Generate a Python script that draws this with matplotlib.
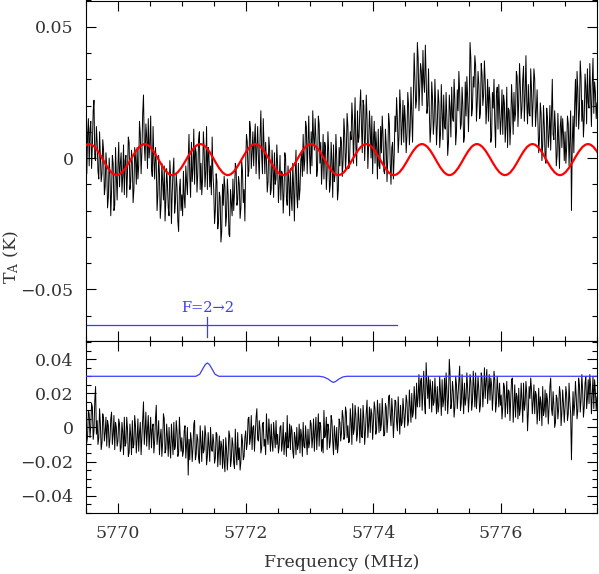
import matplotlib.pyplot as plt
import numpy as np
from matplotlib.path import Path
from matplotlib.patches import PathPatch
from matplotlib.ticker import MultipleLocator, FuncFormatter

plt.rcParams['font.family'] = ['DejaVu Serif']
plt.rcParams['mathtext.fontset'] = 'dejavuserif'

# spectrum channels: start frequency and channel width (MHz)
f_start = 5769.5
f_step = 0.0125

# raw spectrum, top panel (mK), one row per 0.5 MHz
spec_top = [
    2, -6, 9, 15, -3, 11, 14, -4, 5, 18, 22, 0, -1, 12, 6, -5, -8, 10, 1, -9, -6, 7, 3, -14, -11, 2, -4, -19, -15, 0, -6, -22, -13, 1, -2, -20, -18, 4, -7, -16,
    -3, 6, -11, -2, 2, -13, -7, 5, -14, -1, 1, -15, -5, 8, 6, -12, -9, 3, -2, -17, -12, 4, 0, -10, 4, -8, -3, 14, 9, -6, 2, 17, 24, 5, -1, 13, 8, -4, 15, 0,
    5, 16, -4, -7, 12, -1, -8, 4, -2, -20, -14, 1, -6, -23, -18, -2, -9, -16, -3, -24, -16, -4, -10, -19, -22, -1, -7, -25, -13, -5, 0, -21, -17, -6, -11, -24, -28, -12, -8, -20,
    -14, -22, -5, -15, -19, -3, -9, -14, -1, 9, -7, -15, 6, -9, -4, 11, -10, 4, 2, -13, -6, 7, 10, -12, -2, -14, -8, 10, 3, -11, -5, 12, -12, 4, 1, -11, -3, -14, 8, -6,
    -12, -25, -20, -6, -9, -27, -24, -13, -15, -32, -28, -10, -18, -7, -11, -26, -22, -8, -14, -29, -30, -12, -17, -22, -8, -20, -13, -2, -4, -18, -16, -7, -10, -23, -19, -1, -5, -17, -12, -24,
    -2, 9, 6, -7, -5, 14, 11, -4, 2, 10, -3, 7, 13, -6, 4, 12, -1, -8, 8, 18, 1, -6, 15, 5, -6, 6, -1, -13, -9, 8, 3, -14, -12, 3, -4, -15, 2, -10, -8, 5,
    -3, -17, -10, 1, -16, -5, -6, -21, -13, 2, 0, -15, -18, -3, -9, -22, -4, -15, -20, -2, -11, -24, -7, 3, -14, -19, -2, -16, -12, -1, 2, -7, 9, -5, -1, 14, 12, -6, 5, 16,
    1, -6, 10, -3, 18, 8, 3, 15, 7, -7, -4, 16, 13, -2, 6, -10, -2, 9, -8, 6, 4, -12, -5, 10, 2, -13, -10, 6, -1, -15, 5, -9, -6, 9, 0, -16, -12, 4, -3, 8,
    6, -7, -1, 15, 9, -5, 2, 17, 12, -4, -3, 10, 7, 21, 14, -2, 10, 23, 4, -3, 18, 6, 8, 19, 26, 12, 2, 22, 20, -1, 9, 24, 15, -4, 5, 18, 11, 0, 16, -6,
    7, 14, -2, 10, 4, -8, 11, -3, -4, 12, 2, 16, 9, -5, -6, 11, 5, -9, 0, 17, 13, -2, -10, 4, 6, -8, 1, 16, 10, 23, 15, 2, 8, 26, 19, 5, 12, 22, 6, 20,
    14, 2, 9, 25, 20, 5, 11, 27, 16, 6, 24, 40, 30, 19, 22, 44, 38, 18, 27, 36, 33, 20, 41, 29, 25, 43, 31, 17, 20, 34, 18, 6, 12, 29, 23, 9, 14, 30, 19, 5,
    13, 26, 21, 4, 9, 28, 17, 7, 24, 12, 11, 25, 15, 1, 6, 24, 19, 8, 27, 16, 14, 30, 22, 5, 10, 26, 18, 33, 25, 11, 13, 27, 20, 6, 8, 29, 16, 31, 23, 10,
    22, 44, 38, 16, 19, 31, 27, 39, 35, 14, 21, 33, 28, 15, 17, 36, 32, 20, 24, 37, 29, 13, 20, 30, 14, 27, 22, 6, 8, 25, 19, 30, 13, 4, 24, 27, 11, 28, 18, 9,
    15, 26, 9, 24, 21, 6, 12, 27, 4, 19, 18, 5, 13, 28, 20, 9, 25, 14, 17, 33, 31, 12, 22, 36, 27, 15, 19, 30, 35, 14, 24, 39, 21, 13, 28, 17, 16, 34, 26, 12,
    22, 34, 30, 12, 18, 26, 14, 2, 8, 21, 17, -1, 5, 20, 12, 0, -2, 19, 15, 4, 9, 20, 3, 16, 30, 9, 7, 18, 11, -3, 1, 17, 6, -4, 12, 16, 4, 15, 9, -1,
    10, -2, 4, 16, 13, -3, 7, 18, -20, 5, 16, 2, 20, 30, 12, 33, 26, 11, 18, 37, 31, 14, 22, 8, 15, 32, 27, 13, 34, 21, 19, 36, 24, 12, 28, 38, 17, 29, 25, 15,
    21,
]

# residual spectrum after ripple removal, bottom panel (mK)
spec_bot = [
    3, -9, -5, 10, 8, -6, 1, 14, 12, -7, -2, 16, 24, -4, 4, -10, -6, 11, 2, -13, -9, 8, 5, -8, -3, 6, -11, 4, 1, -12, -7, 5, 9, -10, -4, 7, -13, 3, 0, -11,
    -8, 5, 2, -14, -12, 3, -3, -16, 6, -11, -9, 6, -1, -17, -15, 2, -5, -16, 4, -12, -10, 7, 1, -15, -7, 5, -14, -3, 3, -16, -6, 4, 15, -10, -2, 9, -11, -1, 7, -13,
    -3, 6, -12, -1, 2, -15, -8, 5, 13, -10, -4, 4, -16, -6, -1, -17, -9, 8, 5, -15, -13, 2, -6, -17, 0, -11, -18, 2, -7, -16, 3, -13, -11, 4, -2, -17, -15, 6, -5, -14,
    -6, -17, -14, -2, 1, -18, -10, 0, -28, -7, -19, -3, -8, -20, -12, 2, 4, -19, -16, -4, -7, -18, -21, 1, -9, -20, -2, -15, -13, 1, -5, -22, -17, -3, -11, -20, 0, -12, -14, -4,
    -9, -21, -18, -3, -4, -23, -14, -5, -22, -8, -11, -24, -7, -20, -26, -6, -13, -25, -16, -2, -5, -23, -19, -6, -10, -21, -24, -1, -15, -22, -3, -19, -12, -25, -20, -4, -8, -19, -17, -6,
    -2, -13, -9, 5, 6, -10, -6, 7, -13, 0, 1, -14, -4, 6, 11, -7, -8, 4, -1, -15, -12, 2, 3, -11, -7, -16, 8, -5, -10, 5, -3, -14, 2, -9, -14, 3, -5, -12, 4, -10,
    -4, -15, -11, 0, 1, -14, -9, 3, -16, -8, -3, -17, 7, -12, -8, 2, -13, 1, -2, -14, -18, -3, -6, -16, 0, -13, -10, 2, -15, -1, -5, -17, 3, -11, -12, 1, -7, -16, -1, -12,
    -9, 4, 2, -12, -6, 5, -14, -2, 6, -13, -3, 8, -11, 3, 1, -14, -7, -15, 10, -6, -4, 6, -13, 2, -1, -12, -8, 7, 4, -8, -16, 1, -5, -13, 0, -15, -10, 5, 3, -8,
    -3, 10, 6, -7, -5, 12, 9, -6, 1, -9, -8, 11, 4, -10, 14, -4, -1, 13, 7, -8, -4, 12, 3, -9, 11, -5, -6, 13, 5, -10, -2, 9, 16, -6, 2, 12, -3, 11, 8, -7,
    3, 15, 11, -4, -1, 16, 8, -3, 14, -2, 2, 17, 6, -5, -4, 14, 12, -3, 5, 18, 19, 7, 1, 17, 9, -6, 4, 16, 15, 3, -2, 18, 7, -4, 13, 1, 3, 17, 10, 0,
    8, 19, 15, 1, 4, 22, 13, 3, 20, 6, 9, 24, 16, 5, 26, 12, 18, 31, 12, 27, 29, 10, 21, 33, 14, 8, 38, 26, 17, 30, 11, 28, 22, 9, 27, 13, 15, 29, 19, 8,
    24, 9, 13, 30, 20, 7, 28, 12, 16, 29, 10, 32, 22, 8, 18, 40, 31, 11, 15, 27, 21, 6, 12, 30, 25, 11, 19, 28, 36, 10, 14, 31, 20, 8, 26, 13, 17, 32, 23, 9,
    18, 31, 27, 10, 15, 33, 24, 12, 32, 11, 19, 30, 22, 9, 13, 32, 29, 12, 21, 35, 17, 27, 34, 14, 23, 31, 16, 29, 25, 10, 20, 33, 28, 9, 14, 30, 22, 12, 26, 13,
    19, 5, 12, 26, 24, 6, 15, 27, 8, 22, 21, 4, 17, 28, 29, 3, 13, 25, 6, 20, 18, 5, 23, 7, 11, 26, 16, 3, 26, 10, 14, 27, 20, -2, 9, 24, 17, 29, 22, 8,
    15, 25, 8, 21, 19, 2, 11, 23, 4, 18, 14, 1, 24, 7, 10, 22, 6, 20, 16, 2, 12, 24, 29, 11, 7, 21, 13, 0, 3, 19, 17, 5, 11, 24, 20, 1, 9, 22, 14, 3,
    12, 24, 19, 4, 8, 26, 15, 8, -19, 6, 21, 7, 13, 27, 18, 5, 10, 29, 25, 9, 16, 31, 22, 6, 12, 26, 30, 11, 17, 28, 14, 31, 24, 8, 19, 30, 11, 28, 21, 10,
    18,
]

# fitted baseline ripple: extrema (MHz, K)
ripple_freq = [5769.12, 5769.55, 5769.98, 5770.42, 5770.85, 5771.29, 5771.72,
               5772.15, 5772.59, 5773.02, 5773.45, 5773.89, 5774.32, 5774.76,
               5775.19, 5775.62, 5776.06, 5776.49, 5776.92, 5777.36, 5777.79]
ripple_vals = [-0.0065, 0.0053] * 10 + [-0.0065]

# hyperfine line model in the residual panel
model_freq = [5769.5, 5771.22, 5771.28, 5771.33, 5771.37, 5771.40, 5771.43, 5771.47,
              5771.52, 5771.58, 5773.15, 5773.22, 5773.29, 5773.34, 5773.375, 5773.41,
              5773.46, 5773.52, 5773.58, 5777.5]
model_vals = [0.030, 0.030, 0.0312, 0.0345, 0.0370, 0.0378, 0.0370, 0.0345,
              0.0312, 0.030, 0.030, 0.0296, 0.0284, 0.0270, 0.0264, 0.0270,
              0.0284, 0.0296, 0.030, 0.030]

# line marker
line_label = 'F=2\u21922'
line_freq = 5771.40
marker_span = (5769.5, 5774.37)
marker_y = -0.0635

freq = f_start + f_step * np.arange(len(spec_top))
top = np.array(spec_top) / 1000.
bot = np.array(spec_bot) / 1000.

fig = plt.figure(figsize=(5.99, 5.74), dpi=100)
ax1 = fig.add_axes([86/599, 1 - 341/574, 511/599, 340.5/574])
ax2 = fig.add_axes([86/599, 1 - 513/574, 511/599, 172/574])

blue = '#3c3cff'
tcol = '#333333'

ax1.plot(freq, top, color='black', lw=0.7, zorder=2)

# ripple drawn as smooth curve through its extrema
verts = [(ripple_freq[0], ripple_vals[0])]
codes = [Path.MOVETO]
for i in range(len(ripple_freq) - 1):
    x0, y0 = ripple_freq[i], ripple_vals[i]
    x1, y1 = ripple_freq[i + 1], ripple_vals[i + 1]
    d = 0.364 * (x1 - x0)
    verts += [(x0 + d, y0), (x1 - d, y1), (x1, y1)]
    codes += [Path.CURVE4] * 3
ax1.add_patch(PathPatch(Path(verts, codes), fill=False, edgecolor='#ff0000', lw=1.6, zorder=3))

ax1.plot(marker_span, [marker_y, marker_y], color=blue, lw=0.9)
ax1.plot([line_freq, line_freq], [-0.0605, -0.068], color=blue, lw=0.9)
ax1.text(line_freq, -0.0572, line_label, color=blue, ha='center', va='center', fontsize=10.5)

ax2.plot(freq, bot, color='black', lw=0.7, zorder=2)
ax2.plot(model_freq, model_vals, color=blue, lw=0.9, zorder=3)


def fmt(v, pos):
    if abs(v) < 1e-9:
        return '0'
    return ('%g' % v).replace('-', '\u2212')


for ax in (ax1, ax2):
    ax.set_xlim(5769.5, 5777.5)
    ax.xaxis.set_major_locator(MultipleLocator(2))
    ax.xaxis.set_minor_locator(MultipleLocator(0.5))
    ax.tick_params(which='both', direction='in', top=True, right=True, width=0.8, color='black')
    ax.tick_params(which='major', length=7.2, labelsize=12.5, pad=9, labelcolor=tcol)
    ax.tick_params(which='minor', length=3.6)
    ax.yaxis.set_major_formatter(FuncFormatter(fmt))
    for s in ax.spines.values():
        s.set_linewidth(0.8)

ax1.set_ylim(-0.0697, 0.060)
ax1.yaxis.set_major_locator(MultipleLocator(0.05))
ax1.yaxis.set_minor_locator(MultipleLocator(0.01))
ax1.tick_params(labelbottom=False)
ax1.set_ylabel(r'T$_{\rm A}$ (K)', fontsize=12.5, color=tcol)
ax1.yaxis.set_label_coords(-0.128, 0.245)

ax2.set_ylim(-0.0502, 0.0507)
ax2.yaxis.set_major_locator(MultipleLocator(0.02))
ax2.yaxis.set_minor_locator(MultipleLocator(0.005))
ax2.set_xlabel('Frequency (MHz)', fontsize=12.5, color=tcol, labelpad=8)

fig.savefig('out.png', dpi=100)
